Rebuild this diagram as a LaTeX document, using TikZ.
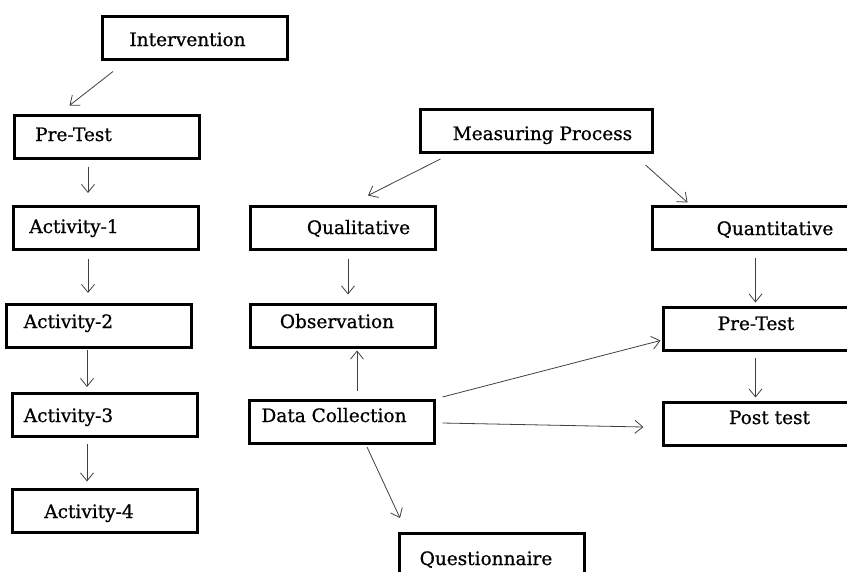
\documentclass[tikz,border=0pt]{standalone}
\usepackage{fontspec}
\setmainfont{DejaVu Serif}
\newfontfamily\boxfont[FakeBold=0.8]{DejaVu Serif}
\usetikzlibrary{arrows.meta,calc}

\tikzset{
  box/.style={draw, rectangle, line width=3pt, minimum width=185pt, minimum height=43pt, inner sep=0pt},
  txt/.style={anchor=base, inner sep=0pt, font=\boxfont\fontsize{18.5}{21}\selectfont},
  flow/.style={-{Straight Barb[length=8pt,width=13pt]}, line width=0.8pt, black!75},
}

\begin{document}
\begin{tikzpicture}[x=1pt, y=-1pt]
    \useasboundingbox (0,0) rectangle (847,571);
    \clip (0,0) rectangle (847,571);

    % Left column
    \node[box] (interv) at (195,37.5) {};
    \node[box] (preL) at (106.5,136.5) {};
    \node[box] (act1) at (105.5,228) {};
    \node[box] (act2) at (99,326) {};
    \node[box] (act3) at (105,415) {};
    \node[box] (act4) at (105,510.5) {};

    \node[txt] (intervT) at (187.5,46) {Intervention};
    \node[txt] (preLT) at (73.5,141) {Pre-Test};
    \node[txt] (act1T) at (74,233) {Activity-1};
    \node[txt] (act2T) at (68.5,328) {Activity-2};
    \node[txt] (act3T) at (68.5,422) {Activity-3};
    \node[txt] (act4T) at (89,518) {Activity-4};

    % Measuring side
    \node[box, minimum width=232pt] (meas) at (536,131) {};
    \node[box] (qual) at (343,227.5) {};
    \node[box] (obs) at (342.5,325.5) {};
    \node[box] (datac) at (341.5,422) {};
    \node[box] (quest) at (492,555) {};
    \node[box, minimum width=228pt] (quant) at (766,227.5) {};
    \node[box, minimum width=228pt] (preR) at (777,328.5) {};
    \node[box, minimum width=228pt] (post) at (777,423.5) {};

    \node[txt] (measT) at (542.5,140) {Measuring Process};
    \node[txt] (qualT) at (358.5,234) {Qualitative};
    \node[txt] (obsT) at (337,328) {Observation};
    \node[txt] (datacT) at (334,422) {Data Collection};
    \node[txt] (questT) at (486,565) {Questionnaire};
    \node[txt] (quantT) at (775,235) {Quantitative};
    \node[txt] (preRT) at (756,330) {Pre-Test};
    \node[txt] (postT) at (769.5,424) {Post test};

    % Arrows
    \draw[flow] ($(interv.south west)+(12,11)$) -- ($(preL.north west)+(57,-8)$);
    \draw[flow] ($(preL.south)+(-18.5,7)$) -- ($(act1.north)+(-17.5,-12)$);
    \draw[flow] ($(act1.south)+(-17.5,8)$) -- ($(act2.north)+(-11,-10)$);
    \draw[flow] ($(act2.south)+(-12,1)$) -- ($(act3.north)+(-18,-5)$);
    \draw[flow] ($(act3.south)+(-18,6)$) -- ($(act4.north)+(-18,-6)$);

    \draw[flow] ($(meas.south west)+(22,5)$) -- ($(qual.north)+(25,-9)$);
    \draw[flow] ($(meas.south east)+(-8,11)$) -- ($(quant.north west)+(37,-2)$);
    \draw[flow] ($(qual.south)+(5,8)$) -- ($(obs.north)+(5.5,-8)$);
    \draw[flow] ($(datac.north)+(15.5,-8)$) -- ($(obs.south)+(14.5,2)$);
    \draw[flow] ($(datac.north east)+(7,-2)$) -- ($(preR.west)+(-1,12)$);
    \draw[flow] ($(datac.east)+(7,1)$) -- ($(post.west)+(-18,3.5)$);
    \draw[flow] ($(datac.south)+(25.5,2)$) -- ($(quest.north)+(-92,-14)$);
    \draw[flow] ($(quant.south west)+(105,7)$) -- ($(preR.north west)+(94,-3)$);
    \draw[flow] ($(preR.south west)+(94,6)$) -- ($(post.north west)+(94,-3)$);
\end{tikzpicture}
\end{document}
